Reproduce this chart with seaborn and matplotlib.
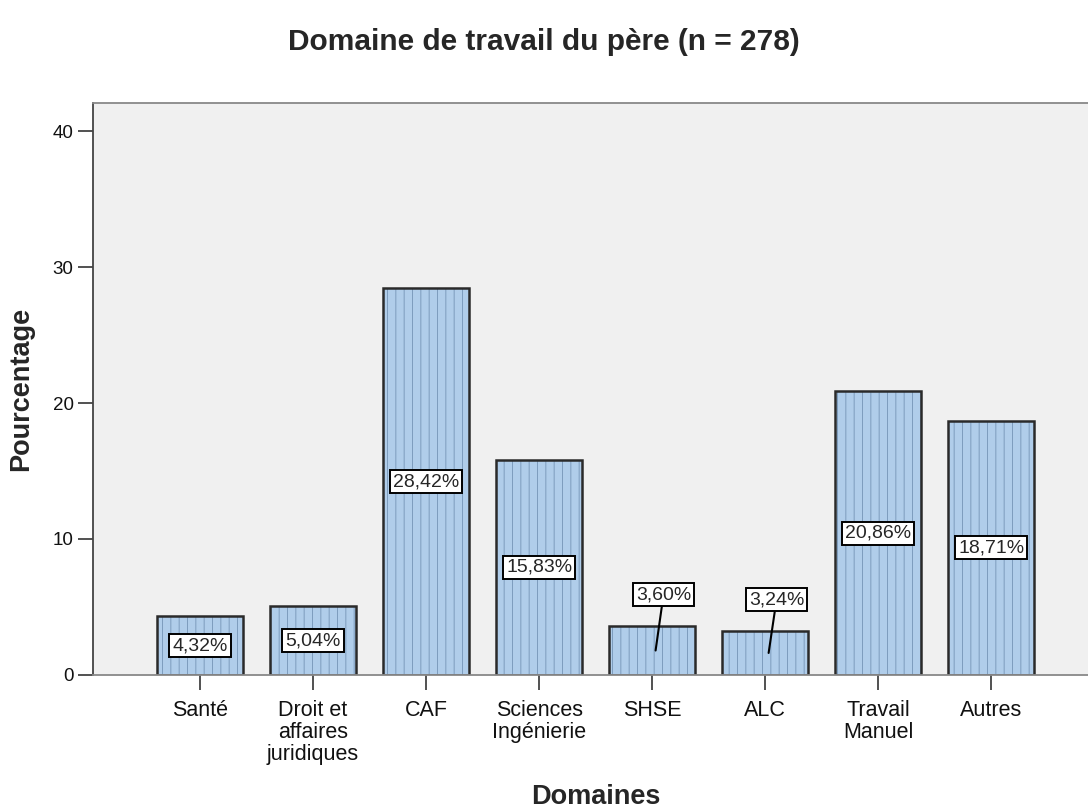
import matplotlib
matplotlib.use('Agg')
import matplotlib.pyplot as plt
import seaborn as sns
import pandas as pd

# data
categories = ['Santé', 'Droit et\naffaires\njuridiques', 'CAF', 'Sciences\nIngénierie',
              'SHSE', 'ALC', 'Travail\nManuel', 'Autres']
percentages = [4.32, 5.04, 28.42, 15.83, 3.60, 3.24, 20.86, 18.71]
labels = ['4,32%', '5,04%', '28,42%', '15,83%', '3,60%', '3,24%', '20,86%', '18,71%']

df = pd.DataFrame({'domaine': categories, 'pct': percentages})

sns.set_style('white')
plt.rcParams['font.family'] = ['Liberation Sans', 'DejaVu Sans']
plt.rcParams['hatch.linewidth'] = 0.7

fig = plt.figure(figsize=(10.88, 8.11), dpi=100)
ax = fig.add_axes([0.0855, 0.1677, 0.924, 0.7053])
ax.set_facecolor('#f0f0f0')

# fill + light hatching (hatch takes the edge colour), then dark outlines on top
sns.barplot(data=df, x='domaine', y='pct', color='#b0cdea', saturation=1,
            width=0.76, edgecolor='#7d9cbd', linewidth=0, hatch='||', ax=ax)
sns.barplot(data=df, x='domaine', y='pct', color='#2a2a2a', saturation=1, fill=False,
            width=0.76, linewidth=1.8, ax=ax)

ax.set_xlim(-0.947, 7.947)
ax.set_ylim(0, 42.06)
ax.set_yticks([0, 10, 20, 30, 40])
ax.tick_params(axis='both', direction='out', length=11, width=1.2, color='#333333',
               bottom=True, left=True, labelcolor='#111111')
ax.tick_params(axis='x', pad=7, labelsize=15.5)
ax.tick_params(axis='y', pad=3, labelsize=13.5)
for t in ax.get_xticklabels():
    t.set_linespacing(1.05)
ax.set_xlabel('Domaines', fontsize=19.5, fontweight='bold', labelpad=14)
ax.set_ylabel('Pourcentage', fontsize=19.5, fontweight='bold', labelpad=13)
fig.suptitle('Domaine de travail du père (n = 278)', fontsize=21.5, fontweight='bold',
             x=0.5, y=0.965)

for side in ['top', 'right']:
    ax.spines[side].set_color('#888888')
ax.spines['bottom'].set_color('#888888')
ax.spines['left'].set_color('#444444')
for s in ax.spines.values():
    s.set_linewidth(1.3)

box = dict(boxstyle='square,pad=0.15', facecolor='white', edgecolor='black', linewidth=1.4)
for i, (v, lab) in enumerate(zip(percentages, labels)):
    if v < 4:
        # small bars: label above with a leader line
        ax.annotate(lab, xy=(i + 0.03, v / 2), xytext=(i + 0.1, v + 2.3),
                    ha='center', va='center', fontsize=14, bbox=box,
                    arrowprops=dict(arrowstyle='-', color='black', lw=1.5, shrinkA=0, shrinkB=0))
    else:
        ax.text(i, v / 2, lab, ha='center', va='center', fontsize=14, bbox=box)

fig.savefig('out.png', dpi=100)
